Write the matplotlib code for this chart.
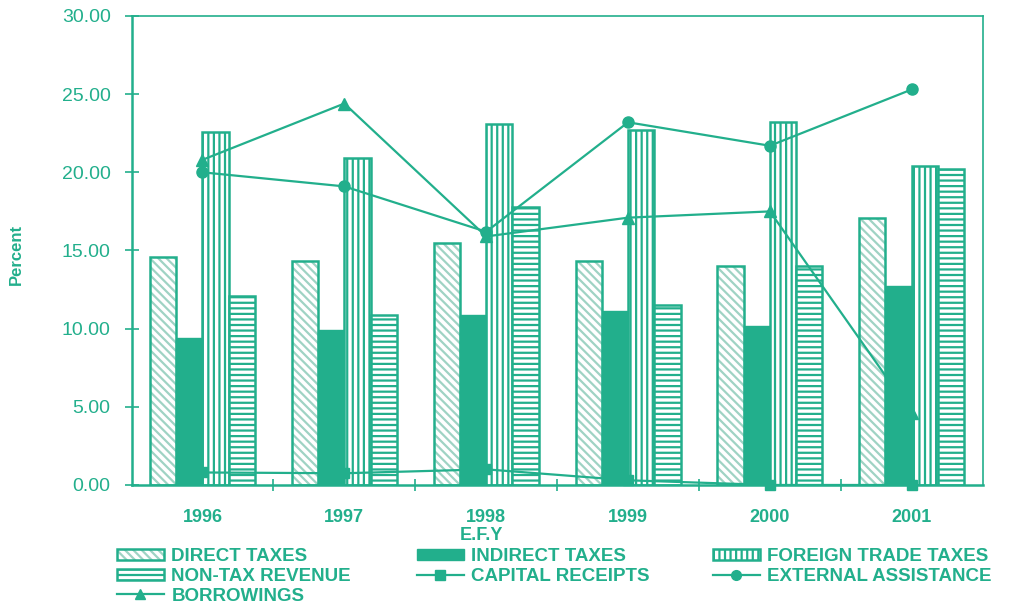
import matplotlib.pyplot as plt
import numpy as np
from matplotlib.patches import Patch
from matplotlib.lines import Line2D
from matplotlib.legend_handler import HandlerTuple

years = ['1996', '1997', '1998', '1999', '2000', '2001']
direct_taxes = [14.6, 14.3, 15.5, 14.3, 14.0, 17.1]
indirect_taxes = [9.4, 9.9, 10.9, 11.1, 10.2, 12.7]
foreign_trade = [22.6, 20.9, 23.1, 22.7, 23.2, 20.4]
non_tax = [12.1, 10.9, 17.8, 11.5, 14.0, 20.2]
capital_receipts = [0.8, 0.75, 1.0, 0.3, 0.0, 0.0]
external_assistance = [20.0, 19.1, 16.2, 23.2, 21.7, 25.3]
borrowings = [20.8, 24.4, 15.9, 17.1, 17.5, 4.6]

teal = '#22af8c'
light = '#9fd3c4'
plt.rcParams['font.family'] = ['Liberation Sans', 'DejaVu Sans']
plt.rcParams['hatch.linewidth'] = 1.6

fig = plt.figure(figsize=(10.12, 6.06), dpi=100)
ax = fig.add_axes([0.130, 0.1997, 0.841, 0.7739])

x = np.arange(len(years))
w = 0.185

# direct taxes: light hatch + teal outline
ax.bar(x - 1.5 * w, direct_taxes, w, color='white', edgecolor=light, hatch='\\\\\\\\', linewidth=0, zorder=2)
ax.bar(x - 1.5 * w, direct_taxes, w, color='none', edgecolor=teal, linewidth=1.8, zorder=2)
ax.bar(x - 0.5 * w, indirect_taxes, w, color=teal, edgecolor=teal, linewidth=1.0, zorder=2)
ax.bar(x + 0.5 * w, foreign_trade, w, color='white', edgecolor=teal, hatch='|||', linewidth=1.8, zorder=2)
ax.bar(x + 1.5 * w, non_tax, w, color='white', edgecolor=teal, hatch='---', linewidth=1.8, zorder=2)

ax.plot(x, capital_receipts, color=teal, lw=1.6, marker='s', ms=7, zorder=4, clip_on=False)
ax.plot(x, external_assistance, color=teal, lw=1.6, marker='o', ms=8, zorder=4)
ax.plot(x, borrowings, color=teal, lw=1.6, marker='^', ms=8, zorder=4)

ax.set_xlim(-0.5, 5.5)
ax.set_ylim(0, 30)
ax.set_yticks(np.arange(0, 31, 5))
ax.set_yticklabels(['%.2f' % v for v in np.arange(0, 31, 5)], fontsize=14, color=teal)
ax.set_xticks(x)
ax.set_xticklabels(years, fontsize=13, color=teal, fontweight='bold')
ax.set_xticks(np.arange(0.5, 5.5, 1), minor=True)
ax.tick_params(axis='x', which='major', length=0, pad=17)
ax.tick_params(axis='x', which='minor', direction='inout', length=9, width=1.2, color=teal)
ax.tick_params(axis='y', direction='inout', length=10, width=1.2, color=teal, pad=10)
for side, sp in ax.spines.items():
    sp.set_color(teal)
    sp.set_linewidth(1.8 if side in ('left', 'bottom') else 1.2)

fig.text(0.016, 0.58, 'Percent', rotation=90, ha='center', va='center',
         fontsize=12, fontweight='bold', color=teal)
fig.text(0.476, 0.117, 'E.F.Y', ha='center', va='center',
         fontsize=13, fontweight='bold', color=teal)

h_direct = (Patch(facecolor='white', edgecolor=light, hatch='\\\\\\\\', linewidth=0),
            Patch(facecolor='none', edgecolor=teal, linewidth=1.8))
h_indirect = Patch(facecolor=teal, edgecolor=teal)
h_foreign = Patch(facecolor='white', edgecolor=teal, hatch='|||', linewidth=1.8)
h_nontax = Patch(facecolor='white', edgecolor=teal, hatch='---', linewidth=1.8)
h_capital = Line2D([], [], color=teal, lw=1.6, marker='s', ms=7)
h_external = Line2D([], [], color=teal, lw=1.6, marker='o', ms=7)
h_borrow = Line2D([], [], color=teal, lw=1.6, marker='^', ms=7)

columns = [
    ([h_direct, h_nontax, h_borrow], ['DIRECT TAXES', 'NON-TAX REVENUE', 'BORROWINGS'], 117),
    ([h_indirect, h_capital], ['INDIRECT TAXES', 'CAPITAL RECEIPTS'], 417),
    ([h_foreign, h_external], ['FOREIGN TRADE TAXES', 'EXTERNAL ASSISTANCE'], 713),
]
for handles, labels, px in columns:
    leg = fig.legend(handles, labels, loc='upper left',
                     bbox_to_anchor=(px / 1012, (606 - 548) / 606),
                     frameon=False, borderpad=0, borderaxespad=0,
                     handlelength=2.5, handleheight=0.55, handletextpad=0.4,
                     labelspacing=0.15,
                     prop={'size': 13.5, 'weight': 'bold'},
                     handler_map={tuple: HandlerTuple(ndivide=1)})
    for t in leg.get_texts():
        t.set_color(teal)

fig.savefig('out.png', dpi=100)
